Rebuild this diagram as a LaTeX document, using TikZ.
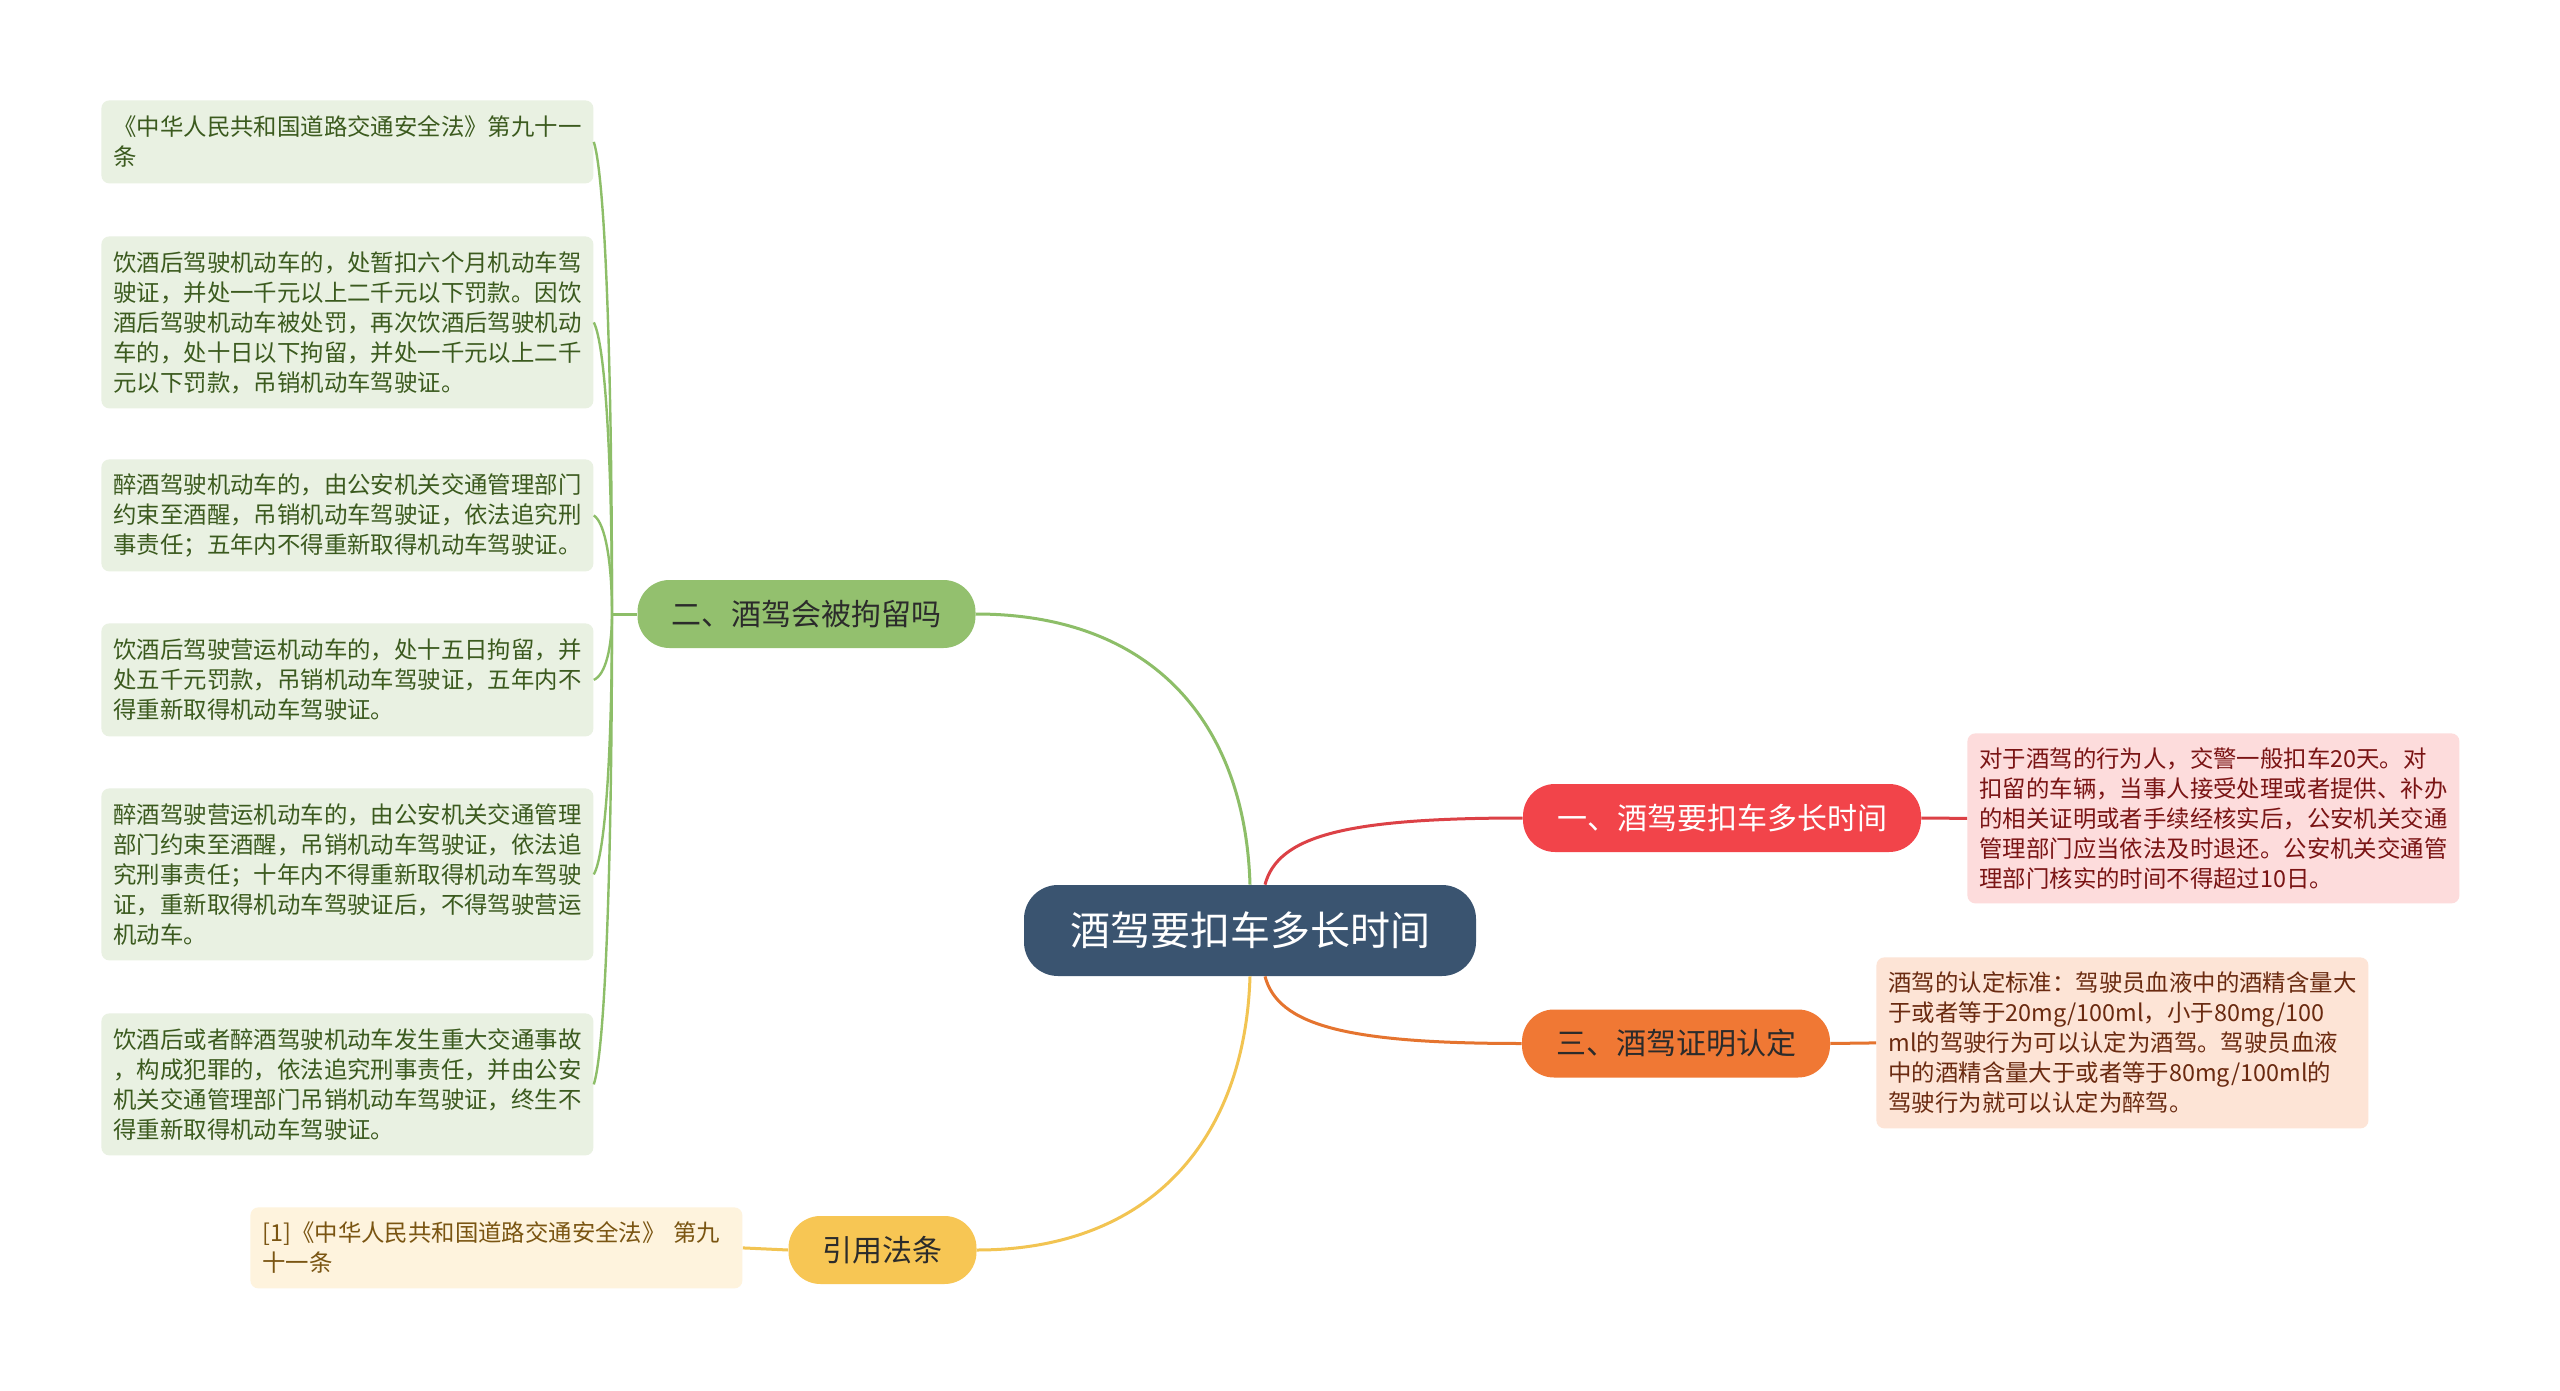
\documentclass[tikz,border=0pt]{standalone}
\usepackage{fontspec}
\setmainfont{Noto Sans CJK SC}
\usepackage{xcolor}
\usetikzlibrary{calc}
\definecolor{rootblue}{HTML}{3A5470}
\definecolor{redmain}{HTML}{F2444A}
\definecolor{redline}{HTML}{DC4146}
\definecolor{redleaf}{HTML}{FDDCDC}
\definecolor{redtext}{HTML}{7A1414}
\definecolor{greenmain}{HTML}{93C06E}
\definecolor{greenline}{HTML}{8DBE68}
\definecolor{greenleaf}{HTML}{E9F1E2}
\definecolor{greentext}{HTML}{3B5A1E}
\definecolor{orangemain}{HTML}{F07834}
\definecolor{orangeline}{HTML}{E5742F}
\definecolor{orangeleaf}{HTML}{FDE4D6}
\definecolor{orangetext}{HTML}{6A2A10}
\definecolor{yellowmain}{HTML}{F7C654}
\definecolor{yellowline}{HTML}{F2C452}
\definecolor{yellowleaf}{HTML}{FEF3DD}
\definecolor{yellowtext}{HTML}{7A5512}
\definecolor{darktext}{HTML}{2B2B2B}
\newcommand\leaffont{\fontsize{11.7}{15}\selectfont}
\newcommand\branchfont{\fontsize{15}{18}\selectfont}
\newcommand\rootfont{\fontsize{20}{24}\selectfont}
\newcommand\leaftwig[1]{\draw[twig] (jn) .. controls ($(jn)!.5!(jn|-#1.east)$) and ($(#1.east)!.08!(#1.east|-jn)+(12,0)$) .. (#1.east)}

\begin{document}
\begin{tikzpicture}[x=0.5pt,y=-0.5pt,
    root/.style={fill=rootblue,text=white,rounded corners=17pt,minimum width=226pt,minimum height=45.5pt,font=\rootfont},
    branch/.style={rounded corners=16pt,inner xsep=17pt,minimum height=34pt,font=\branchfont},
    leaf/.style={rounded corners=4pt,anchor=north west,text width=234pt,inner xsep=6pt,inner ysep=2pt,align=left,font=\leaffont},
    limb/.style={line width=1.5pt},
    twig/.style={line width=1.2pt,greenline}]
        \useasboundingbox[fill=white] (0,0) rectangle (2560,1391);

        \node[root] (root) at (1250,930.5) {酒驾要扣车多长时间};
        \node[branch,fill=redmain,text=white] (b1) at (1722,818) {一、酒驾要扣车多长时间};
        \node[branch,fill=greenmain,text=darktext] (b2) at (806.5,614) {二、酒驾会被拘留吗};
        \node[branch,fill=orangemain,text=darktext] (b3) at (1676,1043.5) {三、酒驾证明认定};
        \node[branch,fill=yellowmain,text=darktext] (b4) at (882.5,1250) {引用法条};

        \node[leaf,fill=redleaf,text=redtext,minimum height=85pt] (r1) at (1967,733) {对于酒驾的行为人，交警一般扣车20天。对\\扣留的车辆，当事人接受处理或者提供、补办\\的相关证明或者手续经核实后，公安机关交通\\管理部门应当依法及时退还。公安机关交通管\\理部门核实的时间不得超过10日。};
        \node[leaf,fill=orangeleaf,text=orangetext,minimum height=85.5pt] (o1) at (1876,957) {酒驾的认定标准：驾驶员血液中的酒精含量大\\于或者等于20mg/100ml，小于80mg/100\\ml的驾驶行为可以认定为酒驾。驾驶员血液\\中的酒精含量大于或者等于80mg/100ml的\\驾驶行为就可以认定为醉驾。};
        \node[leaf,fill=yellowleaf,text=yellowtext,minimum height=40.5pt] (y1) at (250,1207) {[1]《中华人民共和国道路交通安全法》 第九\\十一条};

        \node[leaf,fill=greenleaf,text=greentext,minimum height=41.5pt] (l1) at (101,100) {《中华人民共和国道路交通安全法》第九十一\\条};
        \node[leaf,fill=greenleaf,text=greentext,minimum height=86pt] (l2) at (101,236) {饮酒后驾驶机动车的，处暂扣六个月机动车驾\\驶证，并处一千元以上二千元以下罚款。因饮\\酒后驾驶机动车被处罚，再次饮酒后驾驶机动\\车的，处十日以下拘留，并处一千元以上二千\\元以下罚款，吊销机动车驾驶证。};
        \node[leaf,fill=greenleaf,text=greentext,minimum height=56pt] (l3) at (101,459) {醉酒驾驶机动车的，由公安机关交通管理部门\\约束至酒醒，吊销机动车驾驶证，依法追究刑\\事责任；五年内不得重新取得机动车驾驶证。};
        \node[leaf,fill=greenleaf,text=greentext,minimum height=56.5pt] (l4) at (101,623) {饮酒后驾驶营运机动车的，处十五日拘留，并\\处五千元罚款，吊销机动车驾驶证，五年内不\\得重新取得机动车驾驶证。};
        \node[leaf,fill=greenleaf,text=greentext,minimum height=86pt] (l5) at (101,788) {醉酒驾驶营运机动车的，由公安机关交通管理\\部门约束至酒醒，吊销机动车驾驶证，依法追\\究刑事责任；十年内不得重新取得机动车驾驶\\证，重新取得机动车驾驶证后，不得驾驶营运\\机动车。};
        \node[leaf,fill=greenleaf,text=greentext,minimum height=71pt] (l6) at (101,1013) {饮酒后或者醉酒驾驶机动车发生重大交通事故\\，构成犯罪的，依法追究刑事责任，并由公安\\机关交通管理部门吊销机动车驾驶证，终生不\\得重新取得机动车驾驶证。};

        \draw[limb,redline] ($(root.north)+(15,0)$) .. controls (1278,836) and (1345,818) .. (b1.west);
        \draw[limb,greenline] (root.north) .. controls (1245,720) and (1150,614) .. (b2.east);
        \draw[limb,orangeline] ($(root.south)+(15,0)$) .. controls (1278,1025) and (1345,1043.5) .. (b3.west);
        \draw[limb,yellowline] (root.south) .. controls (1245,1140) and (1150,1250) .. (b4.east);

        \draw[limb,redline] (b1.east) -- (r1.west);
        \draw[limb,orangeline] (b3.east) -- (o1.west);
        \draw[limb,yellowline] (b4.west) -- (y1.east);

        \coordinate (jn) at (612,614);
        \draw[limb,greenline] (b2.west) -- (jn);
        \leaftwig{l1};
        \leaftwig{l2};
        \leaftwig{l3};
        \leaftwig{l4};
        \leaftwig{l5};
        \leaftwig{l6};
    \end{tikzpicture}
\end{document}
